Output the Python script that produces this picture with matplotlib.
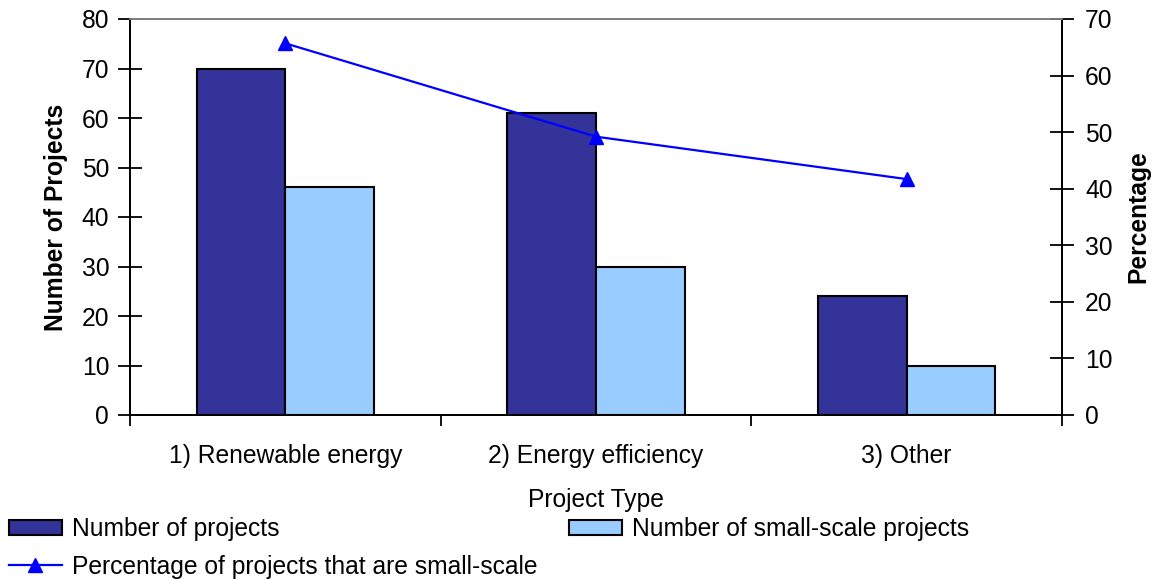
import matplotlib
matplotlib.use("Agg")
import matplotlib.pyplot as plt
import numpy as np
from matplotlib.ticker import FixedLocator

plt.rcParams['font.family'] = ['Liberation Sans', 'DejaVu Sans']

categories = ["1) Renewable energy", "2) Energy efficiency", "3) Other"]
n_projects = [70, 61, 24]
n_small = [46, 30, 10]
pct_small = [65.7, 49.2, 41.7]

FS = 17.7
dark = "#333399"
light = "#99CCFF"
line_col = "#0000FF"

fig = plt.figure(figsize=(11.54, 5.79), dpi=100)
W, H = 1154, 579
ax = fig.add_axes([130 / W, 1 - 415 / H, (1062 - 130) / W, (415 - 19) / H])
ax2 = ax.twinx()

x = np.arange(len(categories))
bw = 0.285
b1 = ax.bar(x - bw / 2, n_projects, bw, color=dark, edgecolor="black", linewidth=1.5,
            label="Number of projects", zorder=2)
b2 = ax.bar(x + bw / 2, n_small, bw, color=light, edgecolor="black", linewidth=1.5,
            label="Number of small-scale projects", zorder=2)
ln, = ax2.plot(x, pct_small, color=line_col, lw=1.6, marker="^", markersize=10,
               label="Percentage of projects that are small-scale")

ax.set_xlim(-0.5, len(categories) - 0.5)
ax.set_ylim(0, 80)
ax2.set_ylim(0, 70)
ax.set_yticks(np.arange(0, 81, 10))
ax2.set_yticks(np.arange(0, 71, 10))

ax.set_xticks(x)
ax.set_xticklabels(categories, fontsize=FS)
ax.xaxis.set_minor_locator(FixedLocator(np.arange(-0.5, len(categories), 1.0)))
ax.tick_params(axis="x", which="major", length=0, pad=21)
ax.tick_params(axis="x", which="minor", length=8, width=1.3, direction="out", color="black")
ax.tick_params(axis="y", direction="inout", length=17, width=1.3, labelsize=FS, pad=6.5)
ax2.tick_params(axis="y", direction="inout", length=17, width=1.3, labelsize=FS, pad=8)

for a in (ax, ax2):
    for s in ("left", "right", "bottom"):
        a.spines[s].set_color("black")
        a.spines[s].set_linewidth(1.3)
    a.spines["top"].set_color("#808080")
    a.spines["top"].set_linewidth(1.3)

ax.set_ylabel("Number of Projects", fontsize=FS, fontweight="bold", labelpad=10)
ax2.set_ylabel("Percentage", fontsize=FS, fontweight="bold", labelpad=10)
ax.set_xlabel("Project Type", fontsize=FS, labelpad=14.5)

common = dict(fontsize=FS, frameon=False, handlelength=2.15, handleheight=0.6,
              handletextpad=0.4, borderpad=0, borderaxespad=0, labelspacing=0.55)
leg1 = fig.legend([b1, ln], [b1.get_label(), ln.get_label()], loc="upper left",
                  bbox_to_anchor=(9 / W, 1 - 517 / H), **common)
leg2 = fig.legend([b2], [b2.get_label()], loc="upper left",
                  bbox_to_anchor=(569 / W, 1 - 517 / H), **common)

fig.savefig("out.png", dpi=100)
